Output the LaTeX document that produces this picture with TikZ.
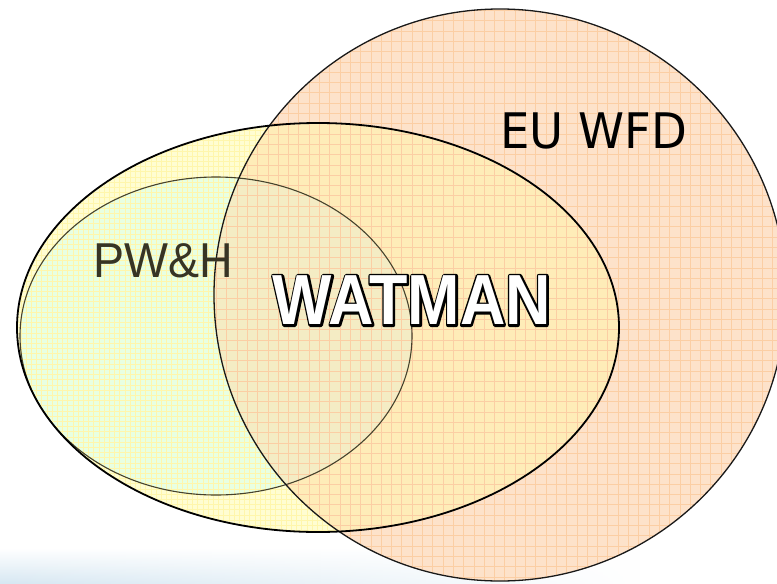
\documentclass[tikz,border=0pt]{standalone}
\usepackage{fontspec}
\usetikzlibrary{fadings}
\newfontfamily\dejavu{DejaVu Sans}
\newfontfamily\libsans{Liberation Sans}
\definecolor{cO}{RGB}{253,226,202}
\definecolor{cY}{RGB}{255,253,210}
\definecolor{cG}{RGB}{232,255,226}
\definecolor{cYO}{RGB}{254,236,184}
\definecolor{cGO}{RGB}{244,236,196}
\definecolor{ogridc}{RGB}{251,206,164}
\definecolor{ygridc}{RGB}{255,246,172}
\definecolor{gline}{RGB}{70,66,44}
\definecolor{pwc}{RGB}{55,52,36}
\definecolor{haze}{RGB}{214,231,242}
\tikzset{
  ogrid/.style={draw=ogridc, line width=0.6pt},
  ygrid/.style={draw=ygridc, line width=0.5pt},
  orangeline/.style={draw=black!90, line width=1.3pt},
  yellowline/.style={draw=black, line width=1.8pt},
  greenline/.style={draw=gline, line width=1.1pt},
  eutext/.style={font=\dejavu\fontsize{49}{49}\selectfont, xscale=0.95, text=black, inner sep=0pt},
  pwtext/.style={font=\libsans\fontsize{49}{49}\selectfont, xscale=0.95, text=pwc, inner sep=0pt},
  wmtext/.style={font=\libsans\bfseries\fontsize{71}{71}\selectfont, xscale=0.885, inner sep=0pt}
}
\begin{document}
\begin{tikzpicture}[x=1pt,y=-1pt]
\useasboundingbox (0,0) rectangle (777,584);
\fill[white] (0,0) rectangle (777,584);
\shade[top color=white, bottom color=haze, path fading=east] (0,548) rectangle (640,584);
\coordinate (oc) at (500,295);
\coordinate (yc) at (318,327.5);
\coordinate (gc) at (216,336);
% base fills
\fill[cO] (oc) circle[radius=286pt];
\fill[cY] (yc) ellipse[x radius=301pt, y radius=204.5pt];
\fill[cG] (gc) ellipse[x radius=196pt, y radius=159pt];
\begin{scope}
  \clip (yc) ellipse[x radius=301pt, y radius=204.5pt];
  \draw[ygrid] (0,0) grid[step=5.2pt] (777,584);
\end{scope}
% overlaps with the orange circle
\begin{scope}
  \clip (oc) circle[radius=286pt];
  \fill[cYO] (yc) ellipse[x radius=301pt, y radius=204.5pt];
  \fill[cGO] (gc) ellipse[x radius=196pt, y radius=159pt];
  \draw[ogrid] (0,0) grid[step=10.3pt] (777,584);
\end{scope}
% outlines
\draw[greenline] (gc) ellipse[x radius=196pt, y radius=159pt];
\draw[orangeline] (oc) circle[radius=286pt];
\draw[yellowline] (yc) ellipse[x radius=301pt, y radius=204.5pt];
% texts
\node[eutext] (eu) at (594,131) {EU WFD};
\node[pwtext] (pw) at (163,261) {PW\&H};
\node[wmtext] (wm) at (412,300.5) {\special{pdf:literal direct 0 0 0 RG 1 Tr 4.4 w 1 j}\rlap{WATMAN}\special{pdf:literal direct 0 Tr 1 w 0 j}\textcolor{white}{WATMAN}};
\end{tikzpicture}
\end{document}
